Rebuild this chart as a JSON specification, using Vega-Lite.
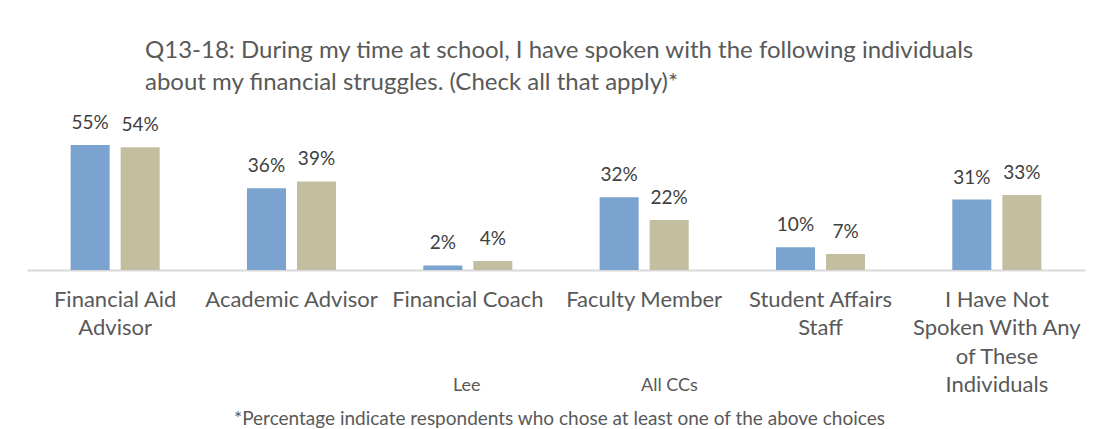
{
  "$schema": "https://vega.github.io/schema/vega-lite/v6.json",
  "autosize": {"type": "none"},
  "width": 1058,
  "height": 159,
  "padding": {"left": 27, "top": 111, "right": 21, "bottom": 159},
  "background": "white",
  "config": {"view": {"stroke": null}, "font": "Lato"},
  "title": {
    "text": ["Q13-18: During my time at school, I have spoken with the following individuals", "about my financial struggles. (Check all that apply)*"],
    "anchor": "start",
    "frame": "group",
    "dx": 118,
    "offset": 16,
    "fontSize": 24,
    "lineHeight": 32,
    "font": "Lato",
    "fontWeight": "normal",
    "color": "#595959"
  },
  "data": {
    "values": [
      {"category": "Financial Aid Advisor", "series": "Lee", "value": 0.55},
      {"category": "Financial Aid Advisor", "series": "All CCs", "value": 0.54},
      {"category": "Academic Advisor", "series": "Lee", "value": 0.36},
      {"category": "Academic Advisor", "series": "All CCs", "value": 0.39},
      {"category": "Financial Coach", "series": "Lee", "value": 0.02},
      {"category": "Financial Coach", "series": "All CCs", "value": 0.04},
      {"category": "Faculty Member", "series": "Lee", "value": 0.32},
      {"category": "Faculty Member", "series": "All CCs", "value": 0.22},
      {"category": "Student Affairs Staff", "series": "Lee", "value": 0.10},
      {"category": "Student Affairs Staff", "series": "All CCs", "value": 0.07},
      {"category": "I Have Not Spoken With Any of These Individuals", "series": "Lee", "value": 0.31},
      {"category": "I Have Not Spoken With Any of These Individuals", "series": "All CCs", "value": 0.33}
    ]
  },
  "encoding": {
    "x": {
      "field": "category",
      "type": "nominal",
      "sort": null,
      "scale": {"paddingInner": 0.495, "paddingOuter": 0.2475},
      "axis": {
        "title": "*Percentage indicate respondents who chose at least one of the above choices",
        "titleFont": "Lato",
        "titleFontSize": 19,
        "titleFontWeight": "normal",
        "titleColor": "#595959",
        "titleX": 532,
        "titleY": 148,
        "titleAlign": "center",
        "titleBaseline": "middle",
        "labelAngle": 0,
        "labelFont": "Lato",
        "labelFontSize": 22,
        "labelColor": "#595959",
        "labelLineHeight": 28.5,
        "labelPadding": 19,
        "labelLimit": 300,
        "ticks": false,
        "domainColor": "#d9d9d9",
        "domainWidth": 2,
        "labelExpr": "datum.value == 'Financial Aid Advisor' ? ['Financial Aid', 'Advisor'] : datum.value == 'Student Affairs Staff' ? ['Student Affairs', 'Staff'] : datum.value == 'I Have Not Spoken With Any of These Individuals' ? ['I Have Not', 'Spoken With Any', 'of These', 'Individuals'] : datum.value"
      }
    },
    "xOffset": {
      "field": "series",
      "type": "nominal",
      "sort": ["Lee", "All CCs"],
      "scale": {"paddingInner": 0.22, "paddingOuter": 0}
    },
    "y": {
      "field": "value",
      "type": "quantitative",
      "scale": {"domain": [0, 0.7]},
      "axis": null
    }
  },
  "layer": [
    {
      "mark": {"type": "bar"},
      "encoding": {
        "color": {
          "field": "series",
          "type": "nominal",
          "sort": ["Lee", "All CCs"],
          "scale": {"domain": ["Lee", "All CCs"], "range": ["#7ba3d0", "#c4bea0"]},
          "legend": {
            "title": null,
            "orient": "none",
            "direction": "horizontal",
            "legendX": 408,
            "legendY": 266,
            "symbolOpacity": 0,
            "symbolSize": 1,
            "symbolStrokeWidth": 0,
            "labelOffset": 0,
            "columnPadding": 142,
            "labelFont": "Lato",
            "labelFontSize": 18,
            "labelColor": "#595959"
          }
        }
      }
    },
    {
      "mark": {"type": "text", "baseline": "bottom", "dy": -12, "fontSize": 19, "font": "Lato", "color": "#404040"},
      "encoding": {
        "text": {"field": "value", "type": "quantitative", "format": ".0%"}
      }
    }
  ]
}
